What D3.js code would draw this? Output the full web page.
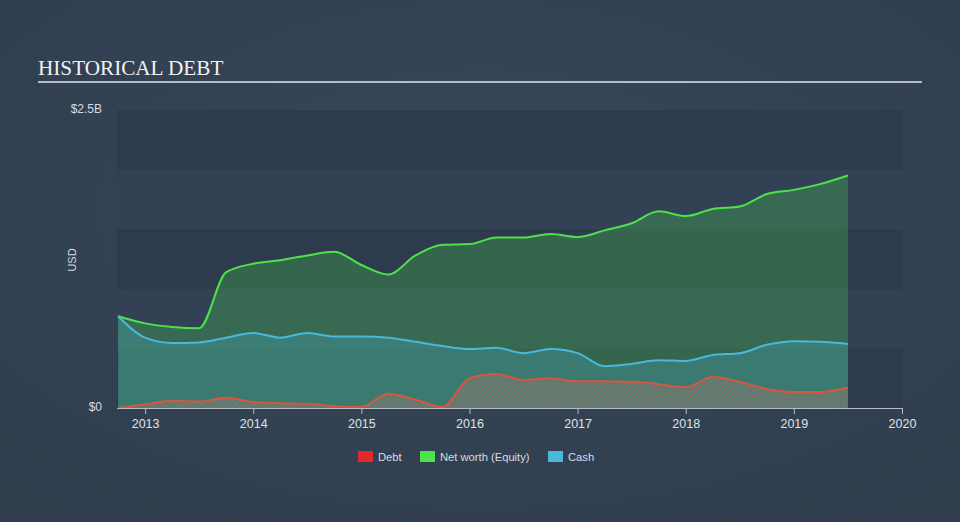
<!DOCTYPE html>
<html><head><meta charset="utf-8">
<script src="https://cdn.jsdelivr.net/npm/d3@7"></script>
<style>
html,body{margin:0;padding:0;background:#344456;}
svg{display:block;}
</style></head>
<body>
<script>
// Quarterly dates (decimal years)
const dates = [2012.75,2013.0,2013.25,2013.5,2013.75,2014.0,2014.25,2014.5,2014.75,2015.0,2015.25,2015.5,2015.75,2016.0,2016.25,2016.5,2016.75,2017.0,2017.25,2017.5,2017.75,2018.0,2018.25,2018.5,2018.75,2019.0,2019.25,2019.5];
// Values in billions USD
const debt   = [0.0,0.03,0.06,0.055,0.085,0.05,0.04,0.035,0.015,0.01,0.12,0.07,0.01,0.25,0.285,0.235,0.25,0.225,0.225,0.22,0.20,0.175,0.26,0.22,0.16,0.135,0.135,0.17];
const equity = [0.77,0.71,0.68,0.67,1.14,1.21,1.24,1.28,1.31,1.20,1.12,1.28,1.37,1.375,1.43,1.43,1.46,1.435,1.49,1.55,1.65,1.61,1.67,1.69,1.795,1.83,1.88,1.95];
const cash   = [0.77,0.59,0.545,0.55,0.59,0.63,0.59,0.63,0.60,0.60,0.59,0.555,0.52,0.495,0.505,0.46,0.495,0.46,0.35,0.37,0.40,0.395,0.445,0.46,0.53,0.56,0.555,0.537];
const xTicks = [2013,2014,2015,2016,2017,2018,2019,2020];
const yTickLabels = ["$0","$2.5B"];
const yTickValues = [0,2.5];
const legendItems = ["Debt","Net worth (Equity)","Cash"];
const legendColors = ["#e8272b","#4ce24b","#48b9dc"];

const W=960,H=522;
const svg=d3.select("body").append("svg").attr("width",W).attr("height",H);
const defs=svg.append("defs");
const rg=defs.append("radialGradient").attr("id","bg").attr("cx","50%").attr("cy","40%").attr("r","75%");
rg.append("stop").attr("offset","0%").attr("stop-color","#38485a");
rg.append("stop").attr("offset","100%").attr("stop-color","#2f3d4d");
svg.append("rect").attr("width",W).attr("height",H).attr("fill","url(#bg)");

const pat=defs.append("pattern").attr("id","hatch").attr("patternUnits","userSpaceOnUse")
  .attr("width",4).attr("height",4).attr("patternTransform","rotate(45)");
pat.append("rect").attr("width",4).attr("height",4).attr("fill","rgba(130,130,120,0.4)");
pat.append("line").attr("x1",0).attr("y1",0).attr("x2",0).attr("y2",4)
  .attr("stroke","rgba(200,95,75,0.7)").attr("stroke-width",1.5);

const x=d3.scaleLinear().domain([2012.74,2020]).range([117,902]);
const y=d3.scaleLinear().domain([0,2.5]).range([408,110]);

// background bands
const bands=[0,0.5,1,1.5,2];
svg.selectAll(".band").data(bands).enter().append("rect")
  .attr("x",117).attr("width",903-117)
  .attr("y",d=>y(d+0.5)).attr("height",d=>y(d)-y(d+0.5))
  .attr("fill",(d,i)=>i%2===0?"#2e3b4c":"#324154");

// Title
svg.append("text").attr("x",38).attr("y",75).text("HISTORICAL DEBT")
  .attr("font-family","Liberation Serif, serif").attr("font-size",21.2).attr("fill","#f2f2f2");
svg.append("line").attr("x1",38).attr("x2",922).attr("y1",82).attr("y2",82)
  .attr("stroke","#b5bcc6").attr("stroke-width",2);

const curve=d3.curveMonotoneX;
const mk=(arr)=>dates.map((d,i)=>({d,v:arr[i]}));
const area=d3.area().x(p=>x(p.d)).y0(y(0)).y1(p=>y(p.v)).curve(curve);
const line=d3.line().x(p=>x(p.d)).y(p=>y(p.v)).curve(curve);

svg.append("path").datum(mk(equity)).attr("d",area).attr("fill","#4ce24b").attr("fill-opacity",0.25);
svg.append("path").datum(mk(cash)).attr("d",area).attr("fill","#48b9dc").attr("fill-opacity",0.26);
svg.append("path").datum(mk(debt)).attr("d",area).attr("fill","url(#hatch)");

svg.append("path").datum(mk(equity)).attr("d",line).attr("fill","none").attr("stroke","#4ce24b").attr("stroke-width",2);
svg.append("path").datum(mk(cash)).attr("d",line).attr("fill","none").attr("stroke","#48b9dc").attr("stroke-width",2);
svg.append("path").datum(mk(debt)).attr("d",line).attr("fill","none").attr("stroke","#d9563d").attr("stroke-width",2);

// X axis
const xa=svg.append("g").attr("transform","translate(0,408)")
  .call(d3.axisBottom(x).tickValues(xTicks).tickFormat(d3.format("d")).tickSize(6).tickSizeOuter(0));
xa.select(".domain").attr("stroke","#b5bcc6").attr("d","M117,0.5H902.5");
xa.selectAll(".tick line").attr("stroke","#b5bcc6");
xa.selectAll(".tick text").attr("fill","#dfe3e8").attr("font-size",12.5)
  .attr("font-family","Liberation Sans, Arial, sans-serif").attr("dy","0.9em");

// Y labels
svg.selectAll(".yl").data(yTickValues).enter().append("text")
  .attr("x",102).attr("y",d=>y(d)+3).attr("text-anchor","end")
  .text((d,i)=>yTickLabels[i]).attr("fill","#d6dbe1").attr("font-size",12)
  .attr("font-family","Liberation Sans, Arial, sans-serif");
svg.append("text").attr("transform","translate(76,260) rotate(-90)").attr("text-anchor","middle")
  .text("USD").attr("fill","#d6dbe1").attr("font-size",11).attr("font-family","Liberation Sans, Arial, sans-serif");

// Legend
const lx=[358,420,548];
const lg=svg.selectAll(".lg").data(legendItems).enter().append("g").attr("transform",(d,i)=>`translate(${lx[i]},451)`);
lg.append("rect").attr("width",15).attr("height",11).attr("fill",(d,i)=>legendColors[i]);
lg.append("text").attr("x",20).attr("y",9.5).text(d=>d).attr("fill","#d6dbe1").attr("font-size",11.2)
  .attr("font-family","Liberation Sans, Arial, sans-serif");
</script>
</body></html>
